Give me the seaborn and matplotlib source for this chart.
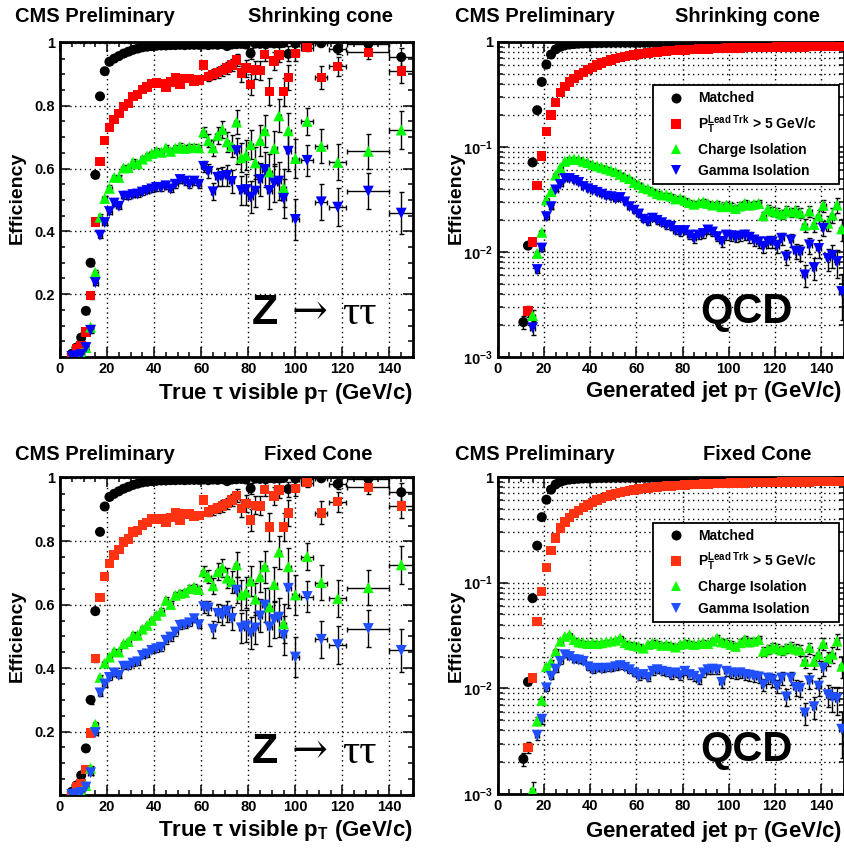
import numpy as np
import pandas as pd
import matplotlib
matplotlib.use("Agg")
import matplotlib.pyplot as plt
import seaborn as sns
from matplotlib.lines import Line2D
from matplotlib.ticker import MultipleLocator, FixedLocator, LogLocator, NullFormatter, FuncFormatter

nan = float("nan")

# ---------------- Z -> tautau ----------------
z_pt = [5, 7, 9, 11, 13, 15, 17, 19, 21, 23, 25, 27, 29, 31, 33, 35, 37, 39, 41, 43,
        45, 47, 49, 51, 53, 55, 57, 59, 61, 63, 65, 67, 69, 71, 73, 75, 77, 79, 81, 83,
        85, 87, 89, 91, 93, 95, 97, 100, 105, 111, 118, 131, 145]
z_pt_err = [1.0] * 47 + [1.5, 2.5, 2.5, 3.5, 9.0, 5.0]
z_events = [1500, 1500, 1500, 1500, 1500, 3000, 3000, 3000, 3000, 3000,
            3000, 3000, 3000, 3000, 3000, 3000, 3000, 3000, 2000, 2000,
            2000, 2000, 2000, 2000, 2000, 2000, 2000, 2000, 700, 500,
            350, 300, 250, 220, 180, 130, 110, 100, 100, 95,
            90, 80, 70, 70, 65, 65, 60, 60, 100, 75,
            70, 75, 55]

z_matched = [0.010, 0.030, 0.062, 0.147, 0.300, 0.580, 0.830, 0.910, 0.940, 0.950,
             0.958, 0.966, 0.972, 0.978, 0.982, 0.986, 0.988, 0.990, 0.991, 0.992,
             0.992, 0.993, 0.993, 0.994, 0.993, 0.994, 0.994, 0.994, 0.995, 0.993,
             0.995, 0.994, 0.996, 0.990, 0.995, 0.996, 0.997, 0.995, 0.967, 0.998,
             0.997, 0.998, 1.000, 0.998, 0.999, 1.000, 0.965, 0.998, 0.997, 0.999,
             0.981, 0.997, 0.955]
z_leadtrk = [0.005, 0.025, 0.035, 0.080, 0.195, 0.430, 0.623, 0.689, 0.730, 0.757,
             0.775, 0.798, 0.808, 0.830, 0.835, 0.852, 0.860, 0.871, 0.872, 0.870,
             0.860, 0.876, 0.890, 0.868, 0.886, 0.887, 0.878, 0.882, 0.930, 0.893,
             0.900, 0.905, 0.912, 0.920, 0.930, 0.945, 0.904, 0.920, 0.867, 0.914,
             0.912, 0.964, 0.845, 0.943, 0.962, 0.845, 0.890, 0.967, 0.985, 0.890,
             0.925, 0.970, 0.911]
z_shrink_charge = [0.003, 0.006, 0.012, 0.030, 0.095, 0.269, 0.445, 0.505, 0.537, 0.572,
                   0.572, 0.602, 0.603, 0.620, 0.615, 0.630, 0.640, 0.648, 0.655, 0.652,
                   0.666, 0.655, 0.665, 0.670, 0.664, 0.668, 0.667, 0.666, 0.716, 0.689,
                   0.666, 0.706, 0.724, 0.685, 0.671, 0.748, 0.634, 0.642, 0.676, 0.618,
                   0.689, 0.720, 0.589, 0.664, 0.768, 0.538, 0.720, 0.632, 0.750, 0.671,
                   0.620, 0.655, 0.723]
z_shrink_gamma = [0.002, 0.004, 0.008, 0.030, 0.085, 0.237, 0.388, 0.428, 0.463, 0.490,
                  0.480, 0.512, 0.512, 0.517, 0.519, 0.525, 0.530, 0.535, 0.540, 0.540,
                  0.545, 0.535, 0.550, 0.565, 0.560, 0.550, 0.560, 0.550, 0.607, 0.591,
                  0.526, 0.572, 0.575, 0.578, 0.559, 0.657, 0.530, 0.533, 0.509, 0.528,
                  0.565, 0.597, 0.530, 0.554, 0.560, 0.505, 0.655, 0.438, 0.626, 0.494,
                  0.477, 0.528, 0.458]
z_fixed_charge = [0.003, 0.006, 0.012, 0.030, 0.085, 0.223, 0.371, 0.416, 0.435, 0.453,
                  0.451, 0.477, 0.484, 0.504, 0.504, 0.523, 0.535, 0.551, 0.567, 0.580,
                  0.614, 0.601, 0.630, 0.636, 0.639, 0.651, 0.656, 0.648, 0.704, 0.688,
                  0.660, 0.704, 0.717, 0.684, 0.673, 0.726, 0.631, 0.639, 0.675, 0.618,
                  0.688, 0.720, 0.593, 0.664, 0.766, 0.540, 0.720, 0.631, 0.752, 0.670,
                  0.620, 0.654, 0.726]
z_fixed_gamma = [0.002, 0.004, 0.008, 0.025, 0.070, 0.197, 0.322, 0.350, 0.371, 0.385,
                 0.377, 0.406, 0.406, 0.416, 0.420, 0.440, 0.445, 0.456, 0.461, 0.466,
                 0.488, 0.498, 0.514, 0.535, 0.537, 0.543, 0.556, 0.537, 0.594, 0.590,
                 0.523, 0.573, 0.567, 0.580, 0.557, 0.646, 0.527, 0.533, 0.512, 0.527,
                 0.565, 0.599, 0.530, 0.554, 0.561, 0.504, 0.652, 0.435, 0.626, 0.491,
                 0.474, 0.525, 0.456]

# ---------------- QCD ----------------
qcd_pt = [11, 13, 15, 17, 19, 21, 23, 25, 27, 29, 31, 33, 35, 37, 39, 41, 43, 45, 47, 49,
          51, 53, 55, 57, 59, 61, 63, 65, 67, 69, 71, 73, 75, 77, 79, 81, 83, 85, 87, 89,
          91, 93, 95, 97, 99, 101, 103, 105, 107, 109, 111, 113, 115, 117, 119, 121, 123, 125, 127, 129,
          131, 133, 135, 137, 139, 141, 143, 145, 147, 149]
qcd_pt_err = [1.0] * 70
qcd_events = [25000, 25000, 24000, 24000, 23000, 23000, 22000, 22000, 21000, 21000,
              20000, 20000, 19000, 19000, 18000, 18000, 17000, 17000, 16000, 16000,
              15500, 15000, 14500, 14000, 13500, 13000, 12500, 12000, 11500, 11000,
              10500, 10000, 9800, 9500, 9200, 9000, 8800, 8500, 8200, 8000,
              7800, 7500, 7200, 7000, 6800, 6500, 6300, 6000, 5800, 5600,
              5400, 5200, 5000, 4800, 4500, 4300, 4100, 3900, 3700, 3500,
              3300, 3000, 2800, 2600, 2400, 2200, 2000, 1700, 1400, 1100]

qcd_matched = [0.00215, 0.0115, 0.0713, 0.224, 0.417, 0.610, 0.760, 0.850, 0.900, 0.930,
               0.945, 0.955, 0.963, 0.968, 0.972, 0.975, 0.977, 0.979, 0.981, 0.982,
               0.983, 0.984, 0.985, 0.985, 0.986, 0.986, 0.987, 0.987, 0.988, 0.988,
               0.988, 0.989, 0.989, 0.989, 0.989, 0.990, 0.990, 0.990, 0.990, 0.990,
               0.990, 0.991, 0.991, 0.991, 0.991, 0.991, 0.991, 0.991, 0.992, 0.992,
               0.992, 0.992, 0.992, 0.992, 0.992, 0.992, 0.992, 0.993, 0.993, 0.993,
               0.993, 0.993, 0.993, 0.993, 0.993, 0.993, 0.993, 0.994, 0.994, 0.994]
qcd_leadtrk = [nan, 0.00275, 0.0125, 0.0428, 0.0824, 0.140, 0.201, 0.265, 0.330, 0.375,
               0.415, 0.450, 0.485, 0.515, 0.545, 0.575, 0.605, 0.630, 0.655, 0.675,
               0.695, 0.712, 0.728, 0.742, 0.755, 0.767, 0.778, 0.788, 0.797, 0.805,
               0.812, 0.819, 0.825, 0.831, 0.836, 0.841, 0.846, 0.850, 0.854, 0.858,
               0.861, 0.864, 0.867, 0.870, 0.873, 0.875, 0.877, 0.879, 0.881, 0.883,
               0.885, 0.887, 0.888, 0.890, 0.891, 0.893, 0.894, 0.895, 0.897, 0.898,
               0.899, 0.900, 0.901, 0.902, 0.903, 0.904, 0.905, 0.906, 0.907, 0.908]
qcd_shrink_charge = [nan, nan, 0.00248, 0.0097, 0.0154, 0.0313, 0.0375, 0.054, 0.0634, 0.073,
                     0.076, 0.077, 0.076, 0.073, 0.071, 0.068, 0.066, 0.064, 0.062, 0.060,
                     0.058, 0.055, 0.052, 0.050, 0.046, 0.044, 0.041, 0.040, 0.038, 0.036,
                     0.035, 0.035, 0.034, 0.032, 0.0325, 0.031, 0.0295, 0.0285, 0.0295, 0.030,
                     0.029, 0.028, 0.0285, 0.027, 0.028, 0.027, 0.026, 0.0275, 0.029, 0.028,
                     0.0285, 0.029, 0.0222, 0.0257, 0.0245, 0.0239, 0.0229, 0.025, 0.024, 0.025,
                     0.0235, 0.018, 0.0245, 0.0183, 0.022, 0.0278, 0.0188, 0.0225, 0.028, 0.0166]
qcd_shrink_gamma = [nan, nan, 0.0019, 0.0068, 0.0109, 0.0217, 0.027, 0.039, 0.044, 0.050,
                    0.050, 0.048, 0.046, 0.042, 0.040, 0.0385, 0.037, 0.0355, 0.034, 0.0336,
                    0.032, 0.033, 0.030, 0.027, 0.025, 0.023, 0.0205, 0.0195, 0.021, 0.020,
                    0.019, 0.018, 0.0175, 0.016, 0.0155, 0.016, 0.0145, 0.0135, 0.0145, 0.015,
                    0.0162, 0.0155, 0.014, 0.0126, 0.0145, 0.0143, 0.0138, 0.0142, 0.0145, 0.0138,
                    0.013, 0.0125, 0.0113, 0.0125, 0.0125, 0.0115, 0.0135, 0.009, 0.013, 0.0102,
                    0.010, 0.00605, 0.0117, 0.0071, 0.0108, 0.0168, 0.0087, 0.0093, 0.0081, 0.0042]
qcd_fixed_charge = [nan, nan, 0.00108, 0.0049, 0.0077, 0.016, 0.0176, 0.0224, 0.0279, 0.031,
                    0.0322, 0.0289, 0.0275, 0.027, 0.0265, 0.027, 0.0265, 0.027, 0.0275, 0.028,
                    0.0285, 0.030, 0.027, 0.026, 0.0255, 0.025, 0.024, 0.026, 0.027, 0.0265,
                    0.0255, 0.026, 0.0255, 0.0246, 0.026, 0.027, 0.0265, 0.026, 0.0265, 0.027,
                    0.0265, 0.028, 0.030, 0.0275, 0.027, 0.026, 0.025, 0.027, 0.029, 0.0275,
                    0.028, 0.029, 0.0224, 0.0235, 0.0247, 0.024, 0.023, 0.024, 0.025, 0.0235,
                    0.023, 0.018, 0.0242, 0.018, 0.021, 0.0265, 0.0192, 0.021, 0.028, 0.0162]
qcd_fixed_gamma = [nan, nan, nan, 0.0036, 0.0051, 0.0101, 0.013, 0.0152, 0.018, 0.0208,
                   0.020, 0.0187, 0.0185, 0.018, 0.016, 0.015, 0.0155, 0.0152, 0.0155, 0.0155,
                   0.016, 0.0164, 0.0158, 0.015, 0.014, 0.013, 0.0135, 0.0127, 0.0145, 0.015,
                   0.0145, 0.0142, 0.0135, 0.014, 0.0132, 0.0145, 0.0135, 0.013, 0.0121, 0.014,
                   0.015, 0.0152, 0.015, 0.0114, 0.0145, 0.014, 0.0138, 0.014, 0.0135, 0.0133,
                   0.013, 0.0128, 0.0108, 0.0125, 0.012, 0.0105, 0.0125, 0.0083, 0.0125, 0.0102,
                   0.010, 0.00585, 0.0118, 0.0067, 0.0105, 0.0156, 0.0087, 0.0082, 0.008, 0.0041]

sel_names = ["Matched", "LeadTrk", "Charge Isolation", "Gamma Isolation"]
legend_labels = ["Matched", r"P$_\mathrm{T}^\mathrm{Lead\ Trk}$ > 5 GeV/c",
                 "Charge Isolation", "Gamma Isolation"]
markers = {"Matched": "o", "LeadTrk": "s", "Charge Isolation": "^", "Gamma Isolation": "v"}
sizes = {"Matched": 52, "LeadTrk": 46, "Charge Isolation": 62, "Gamma Isolation": 62}
colors_top = {"Matched": "black", "LeadTrk": "#ff0000", "Charge Isolation": "#00ff00",
              "Gamma Isolation": "#0000ff"}
colors_bottom = {"Matched": "black", "LeadTrk": "#ff3311", "Charge Isolation": "#11ff00",
                 "Gamma Isolation": "#1f4fff"}

sns.set_style("ticks")
plt.rcParams["font.family"] = ["Liberation Sans", "DejaVu Sans"]
plt.rcParams["font.weight"] = "bold"
plt.rcParams["text.color"] = "black"
plt.rcParams["axes.labelcolor"] = "black"
plt.rcParams["xtick.color"] = "black"
plt.rcParams["ytick.color"] = "black"
plt.rcParams["mathtext.fontset"] = "custom"
plt.rcParams["mathtext.rm"] = "Liberation Sans:bold"
plt.rcParams["mathtext.bf"] = "Liberation Sans:bold"
plt.rcParams["mathtext.it"] = "Liberation Sans:bold"
plt.rcParams["mathtext.sf"] = "Liberation Sans:bold"


def make_frame(pt, pt_err, events, effs):
    parts = []
    for name, eff in zip(sel_names, effs):
        d = pd.DataFrame({"pt": pt, "pt_err": pt_err, "n": events, "eff": eff})
        d["sel"] = name
        parts.append(d)
    df = pd.concat(parts, ignore_index=True)
    df["eff"] = df["eff"].astype(float)
    df["eff_err"] = np.sqrt(df["eff"] * (1 - df["eff"]) / df["n"])
    return df


def draw_panel(ax, df, colors, log, proc, legend_top):
    ax.errorbar(df["pt"], df["eff"], yerr=df["eff_err"], xerr=df["pt_err"], fmt="none",
                ecolor="black", elinewidth=1.0, capsize=1.8, capthick=1.0, zorder=2)
    sns.scatterplot(data=df, x="pt", y="eff", hue="sel", style="sel", size="sel",
                    hue_order=sel_names, style_order=sel_names, size_order=sel_names,
                    palette=colors, markers=markers, sizes=sizes, linewidth=0,
                    legend=False, ax=ax, zorder=3)
    ax.set_xlabel("")
    ax.set_ylabel("")
    ax.set_xlim(0, 150)
    ax.xaxis.set_major_locator(MultipleLocator(20))
    ax.xaxis.set_minor_locator(MultipleLocator(5))
    if log:
        ax.set_yscale("log")
        ax.set_ylim(1e-3, 1)
        ax.yaxis.set_major_locator(FixedLocator([1e-3, 1e-2, 1e-1, 1]))
        ax.yaxis.set_minor_locator(LogLocator(base=10, subs=np.arange(2, 10)))
        ax.yaxis.set_minor_formatter(NullFormatter())
        ax.yaxis.set_major_formatter(FuncFormatter(
            lambda v, _: "1" if v > 0.5 else r"$10^{%d}$" % int(round(np.log10(v)))))
        ax.grid(True, which="both", axis="y", color="black", linestyle=(0, (1, 2.5)), linewidth=1.0)
        ax.grid(True, which="major", axis="x", color="black", linestyle=(0, (1, 2.5)), linewidth=1.0)
    else:
        ax.set_ylim(0, 1.003)
        ax.yaxis.set_major_locator(FixedLocator([0.2, 0.4, 0.6, 0.8, 1.0]))
        ax.yaxis.set_minor_locator(MultipleLocator(0.05))
        ax.yaxis.set_major_formatter(FuncFormatter(
            lambda v, _: "1" if abs(v - 1) < 1e-9 else "%.1f" % v))
        ax.grid(True, which="major", color="black", linestyle=(0, (1, 2.5)), linewidth=1.0)
    ax.tick_params(which="both", direction="in", top=True, right=True, width=1.1, color="black")
    ax.tick_params(which="major", length=7, labelsize=10.5, pad=3.5, labelcolor="black")
    ax.tick_params(which="minor", length=3.6)
    for lab in ax.get_xticklabels() + ax.get_yticklabels():
        lab.set_fontweight("bold")
    for sp in ax.spines.values():
        sp.set_linewidth(2.0)
        sp.set_color("black")
        sp.set_visible(True)
    ax.set_axisbelow(True)

    if proc == "Z":
        ax.text(0.544, legend_top, "Z", transform=ax.transAxes, fontsize=31, fontweight="bold",
                ha="left", va="baseline", zorder=5)
        ax.text(0.655, legend_top, "\u2192", transform=ax.transAxes, fontsize=31,
                fontweight="normal", family=["DejaVu Serif"],
                ha="left", va="baseline", zorder=5)
        ax.text(0.800, legend_top, "\u03c4\u03c4", transform=ax.transAxes, fontsize=31,
                fontweight="normal", family=["Liberation Serif", "DejaVu Serif"],
                ha="left", va="baseline", zorder=5)
    else:
        ax.text(0.585, legend_top[0], "QCD", transform=ax.transAxes, fontsize=30,
                fontweight="bold", ha="left", va="baseline", zorder=5)
        handles = [Line2D([], [], linestyle="none", marker=markers[n], color=colors[n],
                          markersize=7.2 if n != "LeadTrk" else 6.8, markeredgewidth=0)
                   for n in sel_names]
        leg = ax.legend(handles, legend_labels, loc="upper left",
                        bbox_to_anchor=(0.448, legend_top[1], 0.5375, 0.0), mode="expand",
                        borderaxespad=0, fontsize=10, frameon=True, fancybox=False,
                        edgecolor="black", framealpha=1, borderpad=0.45, handlelength=2.4,
                        handletextpad=0.4, labelspacing=0.55)
        leg.get_frame().set_linewidth(1.3)
        leg.set_zorder(6)
        for t in leg.get_texts():
            t.set_fontweight("bold")
            t.set_color("black")


fig = plt.figure(figsize=(8.45, 8.5), dpi=100)
ax_tl = fig.add_axes([0.0710, 0.5800, 0.4178, 0.3706])
ax_tr = fig.add_axes([0.5893, 0.5800, 0.4095, 0.3706])
ax_bl = fig.add_axes([0.0710, 0.0647, 0.4178, 0.3741])
ax_br = fig.add_axes([0.5893, 0.0659, 0.4095, 0.3729])

df_tl = make_frame(z_pt, z_pt_err, z_events, [z_matched, z_leadtrk, z_shrink_charge, z_shrink_gamma])
df_bl = make_frame(z_pt, z_pt_err, z_events, [z_matched, z_leadtrk, z_fixed_charge, z_fixed_gamma])
df_tr = make_frame(qcd_pt, qcd_pt_err, qcd_events,
                   [qcd_matched, qcd_leadtrk, qcd_shrink_charge, qcd_shrink_gamma])
df_br = make_frame(qcd_pt, qcd_pt_err, qcd_events,
                   [qcd_matched, qcd_leadtrk, qcd_fixed_charge, qcd_fixed_gamma])

draw_panel(ax_tl, df_tl, colors_top, False, "Z", 0.105)
draw_panel(ax_bl, df_bl, colors_bottom, False, "Z", 0.100)
draw_panel(ax_tr, df_tr, colors_top, True, "QCD", (0.108, 0.863))
draw_panel(ax_br, df_br, colors_bottom, True, "QCD", (0.104, 0.856))

# panel headers
title_kw = dict(fontsize=14.5, fontweight="bold", va="baseline", color="black")
fig.text(0.0178, 0.974, "CMS Preliminary", ha="left", **title_kw)
fig.text(0.465, 0.974, "Shrinking cone", ha="right", **title_kw)
fig.text(0.5385, 0.974, "CMS Preliminary", ha="left", **title_kw)
fig.text(0.970, 0.974, "Shrinking cone", ha="right", **title_kw)
fig.text(0.0178, 0.4588, "CMS Preliminary", ha="left", **title_kw)
fig.text(0.441, 0.4588, "Fixed Cone", ha="right", **title_kw)
fig.text(0.5385, 0.4588, "CMS Preliminary", ha="left", **title_kw)
fig.text(0.9606, 0.4588, "Fixed Cone", ha="right", **title_kw)

# axis titles
xlab_kw = dict(fontsize=16, fontweight="bold", ha="right", va="baseline", color="black")
fig.text(0.4888, 0.5306, "True \u03c4 visible p$_\\mathrm{T}$ (GeV/c)", **xlab_kw)
fig.text(0.9964, 0.5330, "Generated jet p$_\\mathrm{T}$ (GeV/c)", **xlab_kw)
fig.text(0.4888, 0.0169, "True \u03c4 visible p$_\\mathrm{T}$ (GeV/c)", **xlab_kw)
fig.text(0.9964, 0.0155, "Generated jet p$_\\mathrm{T}$ (GeV/c)", **xlab_kw)

ylab_kw = dict(fontsize=14, fontweight="bold", ha="center", va="center", rotation=90, color="black")
fig.text(0.020, 0.767, "Efficiency", **ylab_kw)
fig.text(0.5396, 0.767, "Efficiency", **ylab_kw)
fig.text(0.020, 0.2518, "Efficiency", **ylab_kw)
fig.text(0.5396, 0.252, "Efficiency", **ylab_kw)

fig.savefig("out.png", dpi=100, facecolor="white")
